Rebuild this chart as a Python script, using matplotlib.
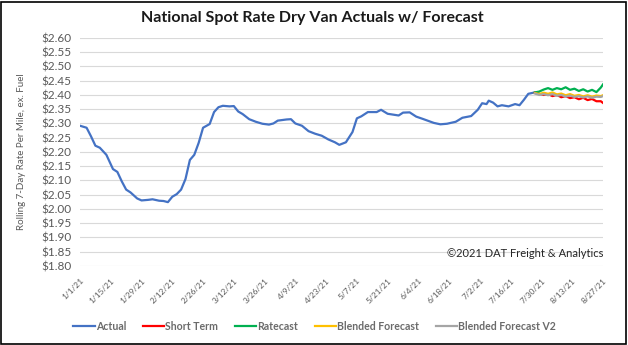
import datetime
import numpy as np
import matplotlib
matplotlib.use("Agg")
import matplotlib.pyplot as plt

plt.rcParams['font.family'] = ['Lato', 'DejaVu Sans']

start = datetime.date(2021, 1, 1)

# actual series: days since 1/1/21 and rate
actual_days = [0, 3, 5, 7, 9, 12, 15, 17, 19, 21, 23, 26, 28, 31, 33, 36, 38, 40,
               42, 44, 46, 48, 50, 52, 54, 56, 59, 61, 63, 65, 68, 70, 72, 74, 77,
               80, 83, 86, 88, 90, 94, 96, 98, 101, 104, 107, 110, 113, 116, 118,
               121, 124, 126, 128, 131, 135, 137, 140, 145, 147, 150, 153, 156,
               161, 164, 167, 171, 174, 178, 181, 183, 185, 186, 188, 190, 192,
               195, 198, 200, 202, 204, 207]
actual_vals = [2.292, 2.285, 2.255, 2.222, 2.215, 2.190, 2.140, 2.130, 2.097, 2.068,
               2.058, 2.037, 2.030, 2.032, 2.034, 2.029, 2.028, 2.024, 2.043, 2.052,
               2.068, 2.105, 2.172, 2.190, 2.232, 2.285, 2.298, 2.340, 2.357, 2.362,
               2.360, 2.361, 2.342, 2.333, 2.315, 2.306, 2.299, 2.296, 2.300, 2.310,
               2.314, 2.315, 2.300, 2.292, 2.273, 2.264, 2.257, 2.244, 2.234, 2.225,
               2.234, 2.270, 2.318, 2.325, 2.340, 2.340, 2.348, 2.334, 2.328, 2.338,
               2.339, 2.324, 2.316, 2.302, 2.297, 2.299, 2.306, 2.320, 2.326, 2.348,
               2.371, 2.368, 2.380, 2.373, 2.360, 2.364, 2.360, 2.368, 2.364, 2.383,
               2.404, 2.409]

fc_days = [207, 209, 211, 213, 215, 217, 219, 221, 223, 225, 227, 229, 231, 233,
           235, 237, 238]
short_term = [2.408, 2.404, 2.400, 2.403, 2.396, 2.400, 2.392, 2.396, 2.389, 2.392,
              2.385, 2.390, 2.382, 2.386, 2.378, 2.378, 2.372]
ratecast = [2.409, 2.412, 2.419, 2.424, 2.418, 2.424, 2.420, 2.427, 2.418, 2.422,
            2.414, 2.420, 2.412, 2.418, 2.410, 2.426, 2.437]
blended = [2.407, 2.403, 2.408, 2.404, 2.409, 2.402, 2.405, 2.399, 2.403, 2.397,
           2.400, 2.395, 2.399, 2.394, 2.398, 2.396, 2.399]
blended_v2 = [2.405, 2.400, 2.403, 2.399, 2.403, 2.397, 2.400, 2.394, 2.398, 2.393,
              2.396, 2.391, 2.395, 2.390, 2.394, 2.393, 2.396]

tick_days = list(range(0, 239, 14))


def to_dates(days):
    return [start + datetime.timedelta(days=d) for d in days]


fig = plt.figure(figsize=(6.28, 3.45), dpi=100)
ax = fig.add_axes([0.1274, 0.229, 0.8328, 0.661])

lw = 1.6
ax.plot(to_dates(actual_days), actual_vals, color="#4472C4", lw=lw, label="Actual")
ax.plot(to_dates(fc_days), short_term, color="#FF0000", lw=lw, label="Short Term")
ax.plot(to_dates(fc_days), ratecast, color="#00B050", lw=lw, label="Ratecast")
ax.plot(to_dates(fc_days), blended, color="#FFC000", lw=lw, label="Blended Forecast")
ax.plot(to_dates(fc_days), blended_v2, color="#A5A5A5", lw=lw, label="Blended Forecast V2")

ax.set_ylim(1.80, 2.60)
ax.set_yticks(np.arange(1.80, 2.601, 0.05))
ax.set_yticklabels([f"${v:.2f}" for v in np.arange(1.80, 2.601, 0.05)],
                   fontsize=8.5, color="#595959")
ax.set_xlim(to_dates([0])[0], to_dates([238])[0])
ax.set_xticks(to_dates(tick_days))
ax.set_xticklabels([f"{d.month}/{d.day}/21" for d in to_dates(tick_days)],
                   rotation=45, ha="right", rotation_mode="anchor",
                   fontsize=6, color="#595959")
ax.tick_params(length=0, pad=6)
ax.tick_params(axis="x", pad=8)

ax.grid(axis="y", color="#D9D9D9", lw=0.8)
ax.set_axisbelow(True)
for s in ax.spines.values():
    s.set_visible(False)

ax.set_ylabel("Rolling 7-Day Rate Per Mile, ex. Fuel", fontsize=7, color="#595959",
              labelpad=11)

fig.text(0.497, 0.947, "National Spot Rate Dry Van Actuals w/ Forecast",
         ha="center", va="center", fontsize=11.5, fontweight="bold", color="#1a1a1a")
ax.text(1.0, 0.03, "©2021 DAT Freight & Analytics", transform=ax.transAxes,
        ha="right", va="bottom", fontsize=8, color="#262626")

leg = fig.legend(loc="center", bbox_to_anchor=(0.501, 0.055), ncol=5, frameon=False,
                 prop={"size": 7.6, "weight": "bold"}, handlelength=2.0,
                 handletextpad=0.1, columnspacing=1.6)
for t in leg.get_texts():
    t.set_color("#6b6b6b")

# outer frame
fig.add_artist(plt.Rectangle((0.002, 0.004), 0.995, 0.99, transform=fig.transFigure,
                             fill=False, edgecolor="black", lw=1.2))

fig.savefig("out.png", dpi=100)
